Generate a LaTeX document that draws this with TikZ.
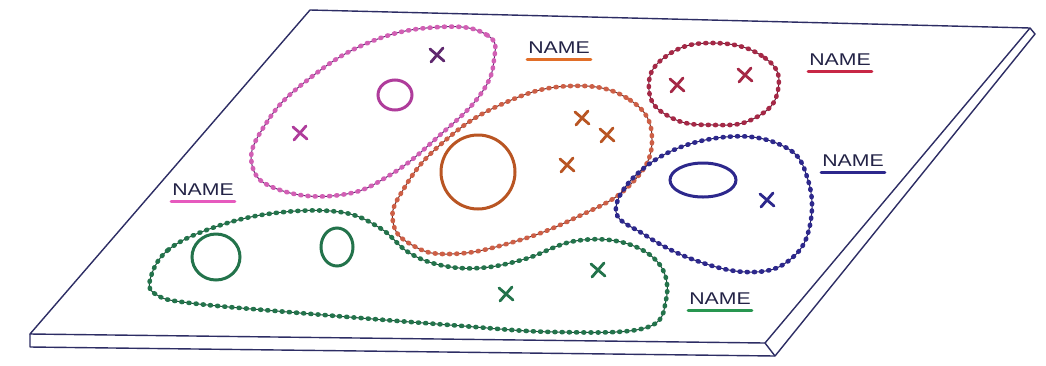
\documentclass[tikz,border=0pt]{standalone}
\usepackage{fontspec}
\setmainfont{Liberation Sans}
\definecolor{plate}{RGB}{45,45,100}
\definecolor{pinkd}{RGB}{210,95,180}
\definecolor{pinkl}{RGB}{95,40,110}
\definecolor{pinkc}{RGB}{175,60,155}
\definecolor{orad}{RGB}{205,95,70}
\definecolor{oral}{RGB}{110,45,40}
\definecolor{orac}{RGB}{185,85,35}
\definecolor{mard}{RGB}{165,40,70}
\definecolor{marl}{RGB}{100,25,50}
\definecolor{blud}{RGB}{45,40,140}
\definecolor{blul}{RGB}{35,30,100}
\definecolor{grnd}{RGB}{35,115,75}
\definecolor{grnl}{RGB}{25,75,55}
\definecolor{grnu}{RGB}{40,150,80}
\definecolor{redu}{RGB}{200,40,70}
\definecolor{pinku}{RGB}{230,90,190}
\definecolor{orau}{RGB}{225,110,40}
\definecolor{ink}{RGB}{35,35,70}
\begin{document}
\begin{tikzpicture}[x=1pt,y=-1pt,
  edge/.style={draw=plate,line width=1.4pt,line join=round},
  outline/.style={draw=#1,line width=1pt},
  beads/.style={draw=#1,line width=4.6pt,line cap=round,dash pattern=on 1pt off 6.2pt},
  ring/.style={draw=#1,line width=3pt},
  xm/.style={draw=#1,line width=2.8pt,line cap=round},
  lbl/.style={font=\fontsize{17}{17}\selectfont,text=ink,inner sep=1pt},
  uline/.style={draw=#1,line width=3pt,line cap=round}]
\useasboundingbox (0,0) rectangle (1046,365);
\fill[white] (0,0) rectangle (1046,365);
% plate
\coordinate (tl) at (310,10);
\coordinate (tr) at (1030,28);
\coordinate (br) at (765,343);
\coordinate (bl) at (30,334);
\coordinate (tro) at (1035,34);
\coordinate (bro) at (775,356);
\coordinate (blo) at (30,347);
\draw[edge] (bl) -- (tl) -- (tr) -- (br) -- cycle;
\draw[edge] (tr) -- (tro) -- (bro) -- (blo) -- (bl);
\draw[edge] (br) -- (bro);
% blobs
\def\pinkpath{plot[smooth cycle,tension=0.75] coordinates{(440,27) (487,35) (494,60) (480,95) (440,135) (390,175) (340,195) (280,190) (252,165) (265,125) (305,82) (370,42)}}
\def\orapath{plot[smooth cycle,tension=0.75] coordinates{(570,86) (630,100) (652,140) (630,185) (575,218) (510,243) (450,254) (412,245) (393,222) (403,190) (440,145) (500,105)}}
\def\marpath{plot[smooth cycle,tension=0.8] coordinates{(713,43) (765,58) (778,90) (755,118) (713,125) (670,117) (649,90) (665,57)}}
\def\blupath{plot[smooth cycle,tension=0.7] coordinates{(616,207) (655,160) (725,137) (785,147) (808,180) (810,225) (792,258) (755,272) (700,262) (645,235)}}
\def\grnpath{plot[smooth cycle,tension=0.65] coordinates{(150,280) (168,250) (215,227) (275,213) (340,212) (380,228) (408,252) (440,265) (480,268) (525,259) (575,241) (625,243) (660,265) (666,300) (645,328) (555,332) (450,325) (300,313) (190,303) (157,295)}}
\draw[outline=pinkl] \pinkpath;
\draw[beads=pinkd] \pinkpath;
\draw[outline=oral] \orapath;
\draw[beads=orad] \orapath;
\draw[outline=marl] \marpath;
\draw[beads=mard] \marpath;
\draw[outline=blul] \blupath;
\draw[beads=blud] \blupath;
\draw[outline=grnl] \grnpath;
\draw[beads=grnd] \grnpath;
% rings
\draw[ring=pinkc] (395,95) ellipse [x radius=17,y radius=15];
\draw[ring=orac] (478,172) ellipse [x radius=37,y radius=37];
\draw[ring=blud] (703,180) ellipse [x radius=33,y radius=17];
\draw[ring=grnd] (216,257) ellipse [x radius=24,y radius=23];
\draw[ring=grnd] (337,247) ellipse [x radius=16,y radius=19];
% crosses
\foreach \x/\y/\c in {437/55/pinkl,300/133/pinkc,582/118/orac,607/135/orac,567/165/orac,677/85/mard,745/75/mard,767/200/blud,506/294/grnd,598/270/grnd}{
  \draw[xm=\c] (\x-7,\y-6) -- (\x+7,\y+6);
  \draw[xm=\c] (\x-6,\y+7) -- (\x+6,\y-7);
}
% labels
\node[lbl] (nora) at (559,48) {\scalebox{1.25}[1]{NAME}};
\node[lbl] (nmar) at (840,60) {\scalebox{1.25}[1]{NAME}};
\node[lbl] (nblu) at (853,161) {\scalebox{1.25}[1]{NAME}};
\node[lbl] (npin) at (203,190) {\scalebox{1.25}[1]{NAME}};
\node[lbl] (ngrn) at (720,299) {\scalebox{1.25}[1]{NAME}};
\draw[uline=orau] ([yshift=-4pt]nora.south west) -- ([yshift=-4pt]nora.south east);
\draw[uline=redu] ([yshift=-4pt]nmar.south west) -- ([yshift=-4pt]nmar.south east);
\draw[uline=blud] ([yshift=-4pt]nblu.south west) -- ([yshift=-4pt]nblu.south east);
\draw[uline=pinku] ([yshift=-4pt]npin.south west) -- ([yshift=-4pt]npin.south east);
\draw[uline=grnu] ([yshift=-4pt]ngrn.south west) -- ([yshift=-4pt]ngrn.south east);
\end{tikzpicture}
\end{document}
